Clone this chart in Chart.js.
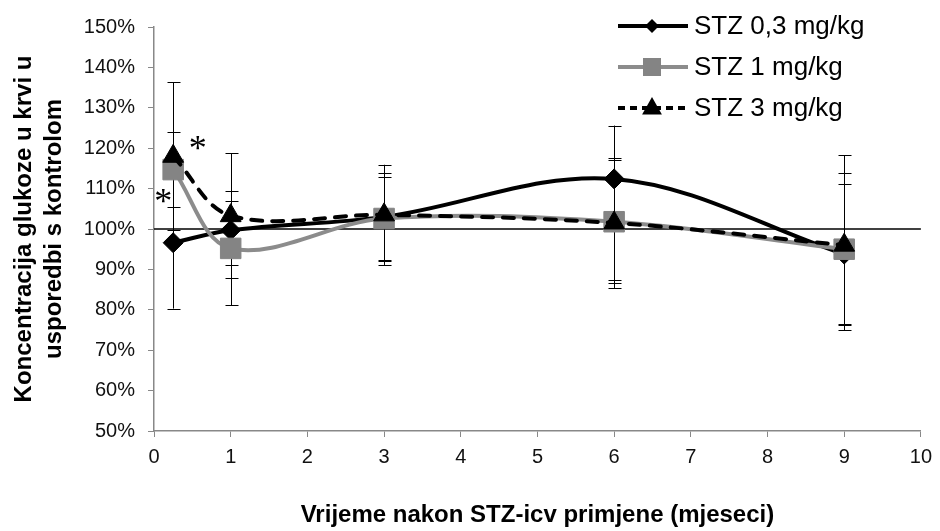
<!DOCTYPE html>
<html>
<head>
<meta charset="utf-8">
<title>Koncentracija glukoze</title>
<script src="https://cdn.jsdelivr.net/npm/chart.js@4.4.1/dist/chart.umd.min.js"></script>
<style>
  html, body { margin: 0; padding: 0; background: #fff; }
  #wrap { width: 940px; height: 531px; position: relative; }
</style>
</head>
<body>
<div id="wrap"><canvas id="glucoseChart"></canvas></div>
<script>
// months after STZ-icv
var months = [0.25, 1, 3, 6, 9];

// % of control
var stz03 = [96.6, 99.7, 103.0, 112.4, 93.8];
var stz03Plus = [16.3, 7.3, 10.9, 13.2, 17.4];
var stz03Minus = [16.3, 8.7, 10.9, 25.1, 17.4];

var stz1 = [114.7, 95.2, 102.6, 101.8, 95.0];
var stz1Plus = [9.3, 14.1, 10.3, 15.2, 18.8];
var stz1Minus = [9.2, 14.1, 10.3, 15.2, 18.8];

var stz3 = [118.0, 103.3, 103.5, 101.5, 96.0];
var stz3Plus = [18.3, 15.4, 12.4, 16.1, 22.2];
var stz3Minus = [18.3, 15.4, 12.4, 16.1, 21.1];

var seriesLabels = ['STZ 0,3 mg/kg', 'STZ 1 mg/kg', 'STZ 3 mg/kg'];

// significance marks (x in months, y in %)
var starX = [0.12, 0.57];
var starY = [108.2, 121.4];

var controlLevel = [100, 100];
var xRange = [0, 10];

function toPoints(xs, ys) {
  return xs.map(function(x, i) { return { x: x, y: ys[i] }; });
}

var errorSets = [
  { plus: stz03Plus, minus: stz03Minus, values: stz03 },
  { plus: stz1Plus, minus: stz1Minus, values: stz1 },
  { plus: stz3Plus, minus: stz3Minus, values: stz3 }
];

var errorBarsPlugin = {
  id: 'errorBars',
  beforeDatasetsDraw: function(chart) {
    var ctx = chart.ctx;
    var xs = chart.scales.x;
    var ys = chart.scales.y;
    ctx.save();
    ctx.strokeStyle = '#000';
    ctx.lineWidth = 1;
    errorSets.forEach(function(set) {
      set.values.forEach(function(v, i) {
        var px = Math.round(xs.getPixelForValue(months[i])) + 0.5;
        var top = ys.getPixelForValue(v + set.plus[i]);
        var bot = ys.getPixelForValue(v - set.minus[i]);
        ctx.beginPath();
        ctx.moveTo(px, top);
        ctx.lineTo(px, bot);
        ctx.moveTo(px - 6, Math.round(top) + 0.5);
        ctx.lineTo(px + 7, Math.round(top) + 0.5);
        ctx.moveTo(px - 6, Math.round(bot) + 0.5);
        ctx.lineTo(px + 7, Math.round(bot) + 0.5);
        ctx.stroke();
      });
    });
    ctx.restore();
  }
};

var starsPlugin = {
  id: 'stars',
  afterDatasetsDraw: function(chart) {
    var ctx = chart.ctx;
    ctx.save();
    ctx.fillStyle = '#000';
    ctx.font = '36px "Liberation Serif"';
    ctx.textAlign = 'center';
    ctx.textBaseline = 'alphabetic';
    starX.forEach(function(x, i) {
      var px = chart.scales.x.getPixelForValue(x);
      var py = chart.scales.y.getPixelForValue(starY[i]);
      ctx.fillText('*', px, py + 17);
    });
    ctx.restore();
  }
};

function drawMarker(ctx, style, x, y, r) {
  ctx.beginPath();
  if (style === 'rectRot') {
    ctx.moveTo(x, y - r);
    ctx.lineTo(x + r, y);
    ctx.lineTo(x, y + r);
    ctx.lineTo(x - r, y);
  } else if (style === 'rect') {
    ctx.rect(x - r, y - r, 2 * r, 2 * r);
  } else {
    ctx.moveTo(x, y - r);
    ctx.lineTo(x + r * 0.9, y + r * 0.6);
    ctx.lineTo(x - r * 0.9, y + r * 0.6);
  }
  ctx.closePath();
  ctx.fill();
}

// legend drawn by hand in the upper right corner
var legendPlugin = {
  id: 'cornerLegend',
  afterDraw: function(chart) {
    var ctx = chart.ctx;
    var rows = [26, 67, 108];
    var sizes = [7, 9, 11];
    ctx.save();
    for (var i = 0; i < 3; i++) {
      var ds = chart.data.datasets[i];
      var y = rows[i];
      ctx.strokeStyle = ds.borderColor;
      ctx.lineWidth = ds.borderWidth;
      ctx.setLineDash(ds.borderDash ? [7, 5] : []);
      ctx.beginPath();
      ctx.moveTo(618, y);
      ctx.lineTo(688, y);
      ctx.stroke();
      ctx.setLineDash([]);
      ctx.fillStyle = ds.pointBackgroundColor;
      drawMarker(ctx, ds.pointStyle, 652, y, sizes[i]);
      ctx.fillStyle = '#000';
      ctx.font = '26px "Liberation Sans", Arial, sans-serif';
      ctx.textAlign = 'left';
      ctx.textBaseline = 'middle';
      ctx.fillText(seriesLabels[i], 694, y + 1);
    }
    ctx.restore();
  }
};

var ctx = document.getElementById('glucoseChart');

var glucoseChart = new Chart(ctx, {
  type: 'line',
  data: {
    datasets: [{
      label: seriesLabels[0],
      data: toPoints(months, stz03),
      borderColor: '#000',
      borderWidth: 4,
      tension: 0.35,
      pointStyle: 'rectRot',
      pointRadius: 10,
      pointBackgroundColor: '#000',
      pointBorderColor: '#000',
      pointBorderWidth: 1,
      order: 3
    }, {
      label: seriesLabels[1],
      data: toPoints(months, stz1),
      borderColor: '#8c8c8c',
      borderWidth: 4,
      tension: 0.35,
      pointStyle: 'rect',
      pointRadius: 14.5,
      pointBackgroundColor: '#848484',
      pointBorderColor: '#848484',
      pointBorderWidth: 1,
      order: 2
    }, {
      label: seriesLabels[2],
      data: toPoints(months, stz3),
      borderColor: '#000',
      borderWidth: 4,
      borderDash: [11, 10],
      borderCapStyle: 'round',
      tension: 0.35,
      pointStyle: 'triangle',
      pointRadius: 12,
      pointBackgroundColor: '#000',
      pointBorderColor: '#000',
      pointBorderWidth: 1,
      order: 1
    }, {
      label: 'kontrola',
      data: toPoints(xRange, controlLevel),
      borderColor: '#000',
      borderWidth: 1.5,
      pointRadius: 0,
      tension: 0,
      order: 4
    }]
  },
  options: {
    responsive: true,
    maintainAspectRatio: false,
    animation: false,
    layout: { padding: { top: 27, right: 15, left: 0, bottom: 0 } },
    plugins: {
      legend: { display: false },
      tooltip: { enabled: false }
    },
    scales: {
      x: {
        type: 'linear',
        min: 0,
        max: 10,
        ticks: {
          stepSize: 1,
          padding: 8,
          color: '#111',
          font: { family: '"Liberation Sans", Arial, sans-serif', size: 20 }
        },
        grid: { drawOnChartArea: false, drawTicks: true, tickLength: 6, color: '#888' },
        border: { color: '#888', width: 1.5 },
        title: {
          display: true,
          text: 'Vrijeme nakon STZ-icv primjene (mjeseci)',
          color: '#000',
          padding: { top: 0, bottom: 1 },
          font: { family: '"Liberation Sans", Arial, sans-serif', size: 24, weight: 'bold' }
        },
        afterFit: function(scale) { scale.height = 100; }
      },
      y: {
        min: 50,
        max: 150,
        ticks: {
          stepSize: 10,
          padding: 13,
          color: '#111',
          font: { family: '"Liberation Sans", Arial, sans-serif', size: 20 },
          callback: function(v) { return v + '%'; }
        },
        grid: { drawOnChartArea: false, drawTicks: true, tickLength: 6, color: '#888' },
        border: { color: '#888', width: 1.5 },
        title: {
          display: true,
          text: ['Koncentracija glukoze u krvi u', 'usporedbi s kontrolom'],
          color: '#000',
          padding: { top: 9, bottom: 0 },
          font: { family: '"Liberation Sans", Arial, sans-serif', size: 24, weight: 'bold', lineHeight: 1.25 }
        },
        afterFit: function(scale) { scale.width = 154; }
      }
    }
  },
  plugins: [errorBarsPlugin, starsPlugin, legendPlugin]
});
</script>
</body>
</html>
